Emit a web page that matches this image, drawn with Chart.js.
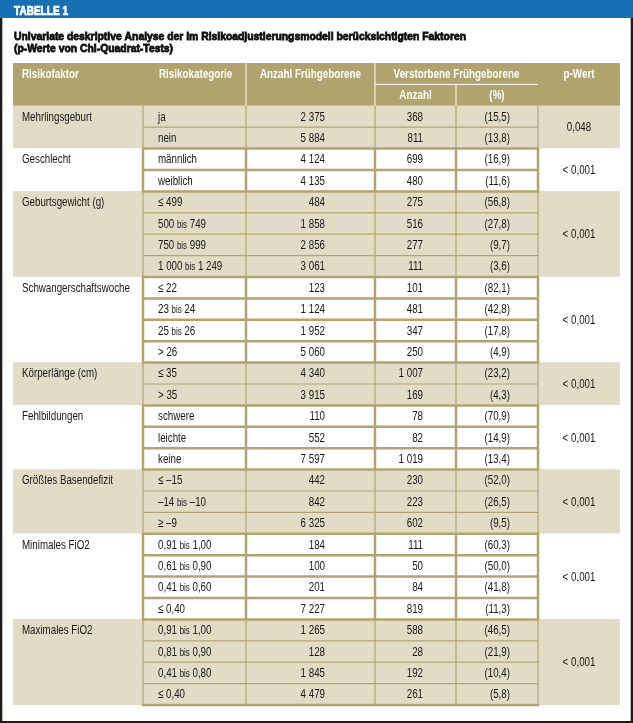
<!DOCTYPE html>
<html>
<head>
<meta charset="utf-8">
<script src="https://cdn.jsdelivr.net/npm/chart.js@4/dist/chart.umd.min.js"></script>
<style>
  html, body { margin: 0; padding: 0; background: #fff; }
  #wrap { width: 633px; height: 723px; }
</style>
</head>
<body>
<div id="wrap"><canvas id="tab" width="633" height="723"></canvas></div>
<script>
var tableNo = 'TABELLE 1';
var titleLines = ['Univariate deskriptive Analyse der im Risikoadjustierungsmodell berücksichtigten Faktoren',
                  '(p-Werte von Chi-Quadrat-Tests)'];
var headTop = ['Risikofaktor', 'Risikokategorie', 'Anzahl Frühgeborene', 'Verstorbene Frühgeborene', 'p-Wert'];
var headSub = ['Anzahl', '(%)'];

var factors = ['Mehrlingsgeburt', 'Geschlecht', 'Geburtsgewicht (g)', 'Schwangerschaftswoche',
               'Körperlänge (cm)', 'Fehlbildungen', 'Größtes Basendefizit', 'Minimales FiO2', 'Maximales FiO2'];
var categories = [
  ['ja', 'nein'],
  ['männlich', 'weiblich'],
  ['≤ 499', '500 bis 749', '750 bis 999', '1 000 bis 1 249'],
  ['≤ 22', '23 bis 24', '25 bis 26', '> 26'],
  ['≤ 35', '> 35'],
  ['schwere', 'leichte', 'keine'],
  ['≤ –15', '–14 bis –10', '≥ –9'],
  ['0,91 bis 1,00', '0,61 bis 0,90', '0,41 bis 0,60', '≤ 0,40'],
  ['0,91 bis 1,00', '0,81 bis 0,90', '0,41 bis 0,80', '≤ 0,40']
];
var totals = [[2375, 5884], [4124, 4135], [484, 1858, 2856, 3061], [123, 1124, 1952, 5060],
              [4340, 3915], [110, 552, 7597], [442, 842, 6325], [184, 100, 201, 7227], [1265, 128, 1845, 4479]];
var deaths = [[368, 811], [699, 480], [275, 516, 277, 111], [101, 481, 347, 250],
              [1007, 169], [78, 82, 1019], [230, 223, 602], [111, 50, 84, 819], [588, 28, 192, 261]];
var percents = [[15.5, 13.8], [16.9, 11.6], [56.8, 27.8, 9.7, 3.6], [82.1, 42.8, 17.8, 4.9],
                [23.2, 4.3], [70.9, 14.9, 13.4], [52.0, 26.5, 9.5], [60.3, 50.0, 41.8, 11.3], [46.5, 21.9, 10.4, 5.8]];
var pValues = ['0,048', '< 0,001', '< 0,001', '< 0,001', '< 0,001', '< 0,001', '< 0,001', '< 0,001', '< 0,001'];

// --- layout / style ---
var colEdges = [0, 130, 233, 362, 443, 525, 607];   // x units, table left = 0
var cHead = '#b1a36d', cShade = '#e2dcc6', cWhite = '#ffffff', cLine = '#b2a46f';
var cBlue = '#1770b3', cFrame = '#1b1b1b', cText = '#161616';
var BODY = 13, BODY_SX = 0.75;     // body text: size and horizontal squeeze
var HEAD = 12, HEAD_SX = 0.82;
var FONT = '"Liberation Sans", Arial, sans-serif';

// one label per table row (2 header rows + data rows)
var rowInfo = [];
var labels = ['head1', 'head2'];
factors.forEach(function(f, g){
  categories[g].forEach(function(c, i){
    rowInfo.push({g: g, i: i});
    labels.push(f + ' / ' + c);
  });
});

function fmtInt(n){ return String(n).replace(/\B(?=(\d{3})+(?!\d))/g, ' '); }
function fmtPct(v){ return '(' + v.toFixed(1).replace('.', ',') + ')'; }

function textWidth(ctx, str, size, weight, sx){
  ctx.font = weight + ' ' + size + 'px ' + FONT;
  return ctx.measureText(str).width * sx;
}
function drawText(ctx, str, x, y, align, size, weight, color, sx){
  sx = sx || BODY_SX;
  var w = textWidth(ctx, str, size, weight, sx);
  var x0 = align === 'right' ? x - w : align === 'center' ? x - w / 2 : x;
  ctx.save();
  ctx.fillStyle = color;
  ctx.textAlign = 'left';
  ctx.textBaseline = 'middle';
  ctx.translate(x0, y);
  ctx.scale(sx, 1);
  ctx.fillText(str, 0, 0);
  ctx.restore();
}
function body(ctx, str, x, y, align){ drawText(ctx, str, x, y, align, BODY, 'normal', cText, BODY_SX); }
function head(ctx, str, x, y, align){ drawText(ctx, str, x, y, align, HEAD, 'bold', '#fff', HEAD_SX); }

// category text: "bis" is set smaller
function drawCategory(ctx, str, x, y){
  var parts = str.split(' bis ');
  if(parts.length === 1){ body(ctx, str, x, y, 'left'); return; }
  body(ctx, parts[0], x, y, 'left');
  x += textWidth(ctx, parts[0] + ' ', BODY, 'normal', BODY_SX);
  drawText(ctx, 'bis', x, y + 0.7, 'left', 10.5, 'normal', cText, BODY_SX);
  x += textWidth(ctx, 'bis', 10.5, 'normal', BODY_SX) + textWidth(ctx, ' ', BODY, 'normal', BODY_SX);
  body(ctx, parts[1], x, y, 'left');
}

var tablePlugin = {
  id: 'tablePlugin',
  beforeDraw: function(chart){
    var ctx = chart.ctx;
    ctx.save();
    ctx.fillStyle = '#fff';
    ctx.fillRect(0, 0, chart.width, chart.height);
    ctx.fillStyle = cBlue;
    ctx.fillRect(0, 0, chart.width, 18);
    ctx.fillStyle = cFrame;
    ctx.fillRect(0, 18, 2.3, chart.height - 18);
    ctx.fillRect(chart.width - 2.3, 18, 2.3, chart.height - 18);
    ctx.fillRect(0, chart.height - 2, chart.width, 2);

    // TABELLE 1
    ctx.font = 'bold 12px ' + FONT;
    var tw = ctx.measureText(tableNo).width;
    ctx.fillStyle = '#fff';
    ctx.strokeStyle = '#fff';
    ctx.lineWidth = 0.7;
    ctx.textBaseline = 'alphabetic';
    ctx.save();
    ctx.translate(14, 15);
    ctx.scale(54 / tw, 1);
    ctx.fillText(tableNo, 0, 0);
    ctx.strokeText(tableNo, 0, 0);
    ctx.restore();

    // title
    ctx.font = 'bold 11.5px ' + FONT;
    var sx = 452 / ctx.measureText(titleLines[0]).width;
    ctx.fillStyle = '#0d0d0d';
    ctx.strokeStyle = '#0d0d0d';
    ctx.lineWidth = 0.8;
    titleLines.forEach(function(t, k){
      ctx.save();
      ctx.translate(14, 39.5 + k * 12);
      ctx.scale(sx, 1);
      ctx.fillText(t, 0, 0);
      ctx.strokeText(t, 0, 0);
      ctx.restore();
    });
    ctx.restore();
  },
  afterDatasetsDraw: function(chart){
    var ctx = chart.ctx;
    var xs = chart.scales.x, ys = chart.scales.y;
    var X = function(v){ return xs.getPixelForValue(v); };
    var half = (ys.getPixelForValue(1) - ys.getPixelForValue(0)) / 2;
    var top = function(r){ return ys.getPixelForValue(r) - half; };
    var bot = function(r){ return ys.getPixelForValue(r) + half; };
    var line = function(x1, y1, x2, y2){ ctx.beginPath(); ctx.moveTo(x1, y1); ctx.lineTo(x2, y2); ctx.stroke(); };

    // group row ranges
    var groups = factors.map(function(){ return {first: -1, last: -1}; });
    rowInfo.forEach(function(ri, k){
      var r = k + 2;
      if(groups[ri.g].first < 0) groups[ri.g].first = r;
      groups[ri.g].last = r;
    });

    ctx.save();
    ctx.strokeStyle = cLine;
    // shaded groups first (thin), then white groups (thick) on top
    [0, 1].forEach(function(pass){
      groups.forEach(function(gr, g){
        if(g % 2 !== pass) return;
        var lw = pass ? 2.5 : 1.2;
        ctx.lineWidth = lw;
        var y0 = top(gr.first), y1 = bot(gr.last);
        for(var c = 1; c <= 5; c++) line(X(colEdges[c]), y0, X(colEdges[c]), y1);
        for(var r = gr.first; r < gr.last; r++) line(X(colEdges[1]), bot(r), X(colEdges[5]), bot(r));
        if(pass || g === groups.length - 1){
          ctx.lineWidth = 2.5;
          if(pass) line(X(colEdges[1]) - 1.25, y0, X(colEdges[5]) + 1.25, y0);
          line(X(colEdges[1]) - 1.25, y1, X(colEdges[5]) + 1.25, y1);
        }
      });
    });

    // header separators
    ctx.strokeStyle = '#fff';
    ctx.lineWidth = 1;
    line(X(colEdges[2]), top(0), X(colEdges[2]), bot(1));
    line(X(colEdges[3]), top(0), X(colEdges[3]), bot(1));
    line(X(colEdges[4]), top(1), X(colEdges[4]), bot(1));
    line(X(colEdges[3]), bot(0), X(colEdges[5]), bot(0));
    ctx.restore();

    // header text
    var hy = ys.getPixelForValue(0) + 0.5, sy = ys.getPixelForValue(1) + 0.5;
    head(ctx, headTop[0], X(colEdges[0]) + 9, hy, 'left');
    head(ctx, headTop[1], X(colEdges[1]) + 16, hy, 'left');
    head(ctx, headTop[2], (X(colEdges[2]) + X(colEdges[3])) / 2, hy, 'center');
    head(ctx, headTop[3], (X(colEdges[3]) + X(colEdges[5])) / 2, hy, 'center');
    head(ctx, headTop[4], (X(colEdges[5]) + X(colEdges[6])) / 2, hy, 'center');
    head(ctx, headSub[0], (X(colEdges[3]) + X(colEdges[4])) / 2, sy, 'center');
    head(ctx, headSub[1], (X(colEdges[4]) + X(colEdges[5])) / 2, sy, 'center');

    // body text
    rowInfo.forEach(function(ri, k){
      var y = ys.getPixelForValue(k + 2) + 0.5;
      var g = ri.g, i = ri.i;
      if(i === 0) body(ctx, factors[g], X(colEdges[0]) + 9, y, 'left');
      drawCategory(ctx, categories[g][i], X(colEdges[1]) + 15, y);
      body(ctx, fmtInt(totals[g][i]), X(colEdges[3]) - 50, y, 'right');
      body(ctx, fmtInt(deaths[g][i]), X(colEdges[4]) - 33, y, 'right');
      body(ctx, fmtPct(percents[g][i]), X(colEdges[5]) - 28, y, 'right');
    });
    groups.forEach(function(gr, g){
      var y = (ys.getPixelForValue(gr.first) + ys.getPixelForValue(gr.last)) / 2 + 0.5;
      body(ctx, pValues[g], (X(colEdges[5]) + X(colEdges[6])) / 2, y, 'center');
    });
  }
};

// one floating-bar dataset per column = the cell backgrounds
var datasets = [];
for(var c = 0; c < 6; c++){
  datasets.push({
    label: 'col' + c,
    data: labels.map(function(){ return [colEdges[c], colEdges[c + 1]]; }),
    backgroundColor: function(ctx){
      var k = ctx.dataIndex;
      if(k < 2) return cHead;
      return rowInfo[k - 2].g % 2 ? cWhite : cShade;
    },
    borderWidth: 0,
    grouped: false,
    barPercentage: 1,
    categoryPercentage: 1
  });
}

new Chart(document.getElementById('tab'), {
  type: 'bar',
  data: { labels: labels, datasets: datasets },
  options: {
    indexAxis: 'y',
    responsive: false,
    animation: false,
    layout: { padding: { left: 13, right: 13, top: 63, bottom: 18 } },
    scales: {
      x: { type: 'linear', min: colEdges[0], max: colEdges[6], display: false },
      y: { type: 'category', display: false, offset: true, grid: { display: false } }
    },
    plugins: { legend: { display: false }, tooltip: { enabled: false } }
  },
  plugins: [tablePlugin]
});
</script>
</body>
</html>
